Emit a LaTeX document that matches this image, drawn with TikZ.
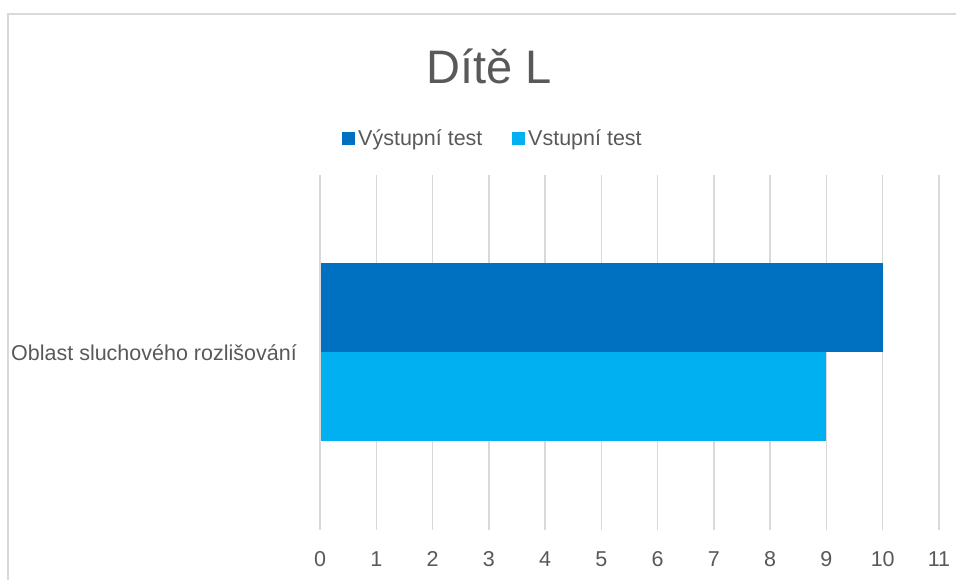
\documentclass[tikz,border=0pt]{standalone}
\usepackage{fontspec}
\setmainfont{Liberation Sans}
\definecolor{darkbar}{HTML}{0070C0}
\definecolor{lightbar}{HTML}{00B0F0}
\definecolor{gridc}{HTML}{D9D9D9}
\definecolor{txt}{HTML}{595959}
\begin{document}
\begin{tikzpicture}[x=1pt,y=-1pt,
  grid/.style={draw=gridc,line width=1.5pt},
  lbl/.style={text=txt,font=\fontsize{21.5}{24}\selectfont,inner sep=0pt},
  sw/.style={minimum width=13pt,minimum height=13pt,inner sep=0pt}]
\useasboundingbox (0,0) rectangle (956,580);
\fill[white] (0,0) rectangle (956,580);
\draw[draw=gridc,line width=2pt] (8,580) -- (8,14) -- (956,14);
% gridlines and tick labels
\foreach \i in {0,...,11}{
  \coordinate (gt\i) at ({320+56.27*\i},175);
  \coordinate (gb\i) at ({320+56.27*\i},530);
  \draw[grid] (gt\i) -- (gb\i);
  \node[lbl,anchor=base] (t\i) at ({320+56.27*\i},566) {\i};
}
% bars
\fill[darkbar] (321,263) rectangle ({320+56.27*10},352);
\fill[lightbar] (321,352) rectangle ({320+56.27*9},441);
% title
\node[text=txt,font=\fontsize{47}{52}\selectfont,inner sep=0pt,anchor=base] (title) at (489,84) {Dítě L};
% legend
\node[sw,fill=darkbar] (s1) at (348.5,138.5) {};
\node[lbl,anchor=base west] (l1) at (358,146) {Výstupní test};
\node[sw,fill=lightbar] (s2) at (518.5,138.5) {};
\node[lbl,anchor=base west] (l2) at (528,146) {Vstupní test};
% category
\node[lbl,anchor=base east] (cat) at (297,360) {Oblast sluchového rozlišování};
\end{tikzpicture}
\end{document}
